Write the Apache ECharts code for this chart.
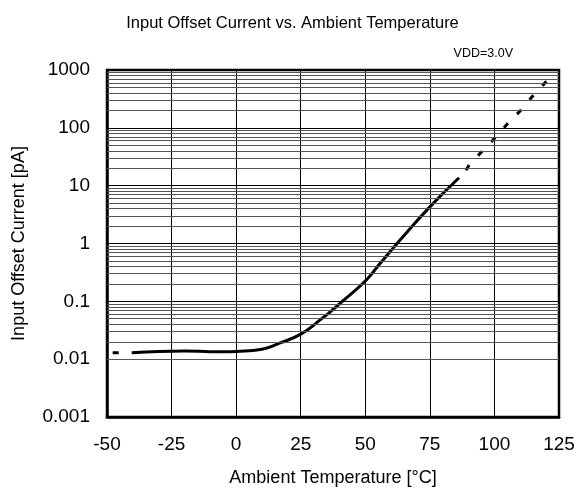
<!DOCTYPE html>
<html>
<head>
<meta charset="utf-8">
<script src="https://cdn.jsdelivr.net/npm/echarts@6/dist/echarts.min.js"></script>
<style>html,body{margin:0;padding:0;background:#fff}#c{width:585px;height:494px}</style>
</head>
<body>
<div id="c"></div>
<script>
var xTicks = [-50, -25, 0, 25, 50, 75, 100, 125];
var yTickLabels = {"0.001":"0.001","0.01":"0.01","0.1":"0.1","1":"1","10":"10","100":"100","1000":"1000"};
var lowDashed = [[-47.8, 0.0129], [-40.3, 0.0129]];
var solidCurve = [[-40.3, 0.0129], [-30, 0.0136], [-20, 0.0138], [-10, 0.0135], [-5, 0.0134], [0, 0.0136], [10, 0.0149], [17, 0.0191], [25, 0.0271], [32.4, 0.0472], [40.2, 0.092], [50.3, 0.232], [55.7, 0.45], [63.4, 1.14], [75, 4.3], [86.3, 13.7]];
var highDashed = [[89, 18.5], [90.2, 22.7], [95.4, 40], [100.4, 68.6], [105.4, 122], [110.3, 203], [115, 363], [121, 700]];
var minorLevels = [];
[0.001, 0.01, 0.1, 1, 10, 100].forEach(function (d) {
  for (var m = 2; m <= 9; m++) minorLevels.push(+(m * d).toPrecision(3));
});

var chart = echarts.init(document.getElementById('c'));
var font = 'Liberation Sans, Arial, sans-serif';
chart.setOption({
  animation: false,
  title: [{
    text: 'Input Offset Current vs. Ambient Temperature',
    left: 'center', top: 10,
    textStyle: { fontFamily: font, fontSize: 16.5, fontWeight: 'normal', color: '#000' }
  }, {
    text: 'VDD=3.0V',
    right: 67, top: 42,
    textStyle: { fontFamily: font, fontSize: 12.5, fontWeight: 'normal', color: '#000' }
  }],
  grid: { left: 107, right: 26, top: 70, bottom: 77, show: true, borderColor: '#000', borderWidth: 2.5, backgroundColor: 'transparent' },
  xAxis: {
    type: 'value', min: -50, max: 125, interval: 25,
    name: 'Ambient Temperature [°C]', nameLocation: 'middle', nameGap: 52,
    nameTextStyle: { fontFamily: font, fontSize: 18, color: '#000' },
    axisLine: { show: true, onZero: false, lineStyle: { color: '#000', width: 2.5 } },
    axisTick: { show: false },
    axisLabel: { fontFamily: font, fontSize: 19, color: '#000', margin: 18 },
    splitLine: { show: true, lineStyle: { color: '#000', width: 1 } }
  },
  yAxis: {
    type: 'log', logBase: 10, min: 0.001, max: 1000,
    name: 'Input Offset Current [pA]', nameLocation: 'middle', nameGap: 79,
    nameTextStyle: { fontFamily: font, fontSize: 18, color: '#000' },
    axisLine: { show: true, onZero: false, lineStyle: { color: '#000', width: 2.5 } },
    axisTick: { show: false },
    axisLabel: {
      fontFamily: font, fontSize: 19, color: '#000', margin: 17,
      formatter: function (v) { var k = String(+v.toPrecision(3)); return yTickLabels[k] !== undefined ? yTickLabels[k] : ''; }
    },
    splitLine: { show: true, lineStyle: { color: '#000', width: 1 } }
  },
  series: [{
    type: 'line', data: [], silent: true,
    markLine: {
      silent: true, symbol: 'none', label: { show: false }, animation: false,
      lineStyle: { color: '#555', width: 1, type: 'solid' },
      data: minorLevels.map(function (v) { return { yAxis: v }; })
    }
  }, {
    type: 'line', data: lowDashed, showSymbol: false, silent: true,
    lineStyle: { color: '#000', width: 3, type: [6, 13], cap: 'butt' }
  }, {
    type: 'line', data: solidCurve, smooth: 0.5, showSymbol: false, silent: true,
    lineStyle: { color: '#000', width: 3 }
  }, {
    type: 'line', data: highDashed, showSymbol: false, silent: true,
    lineStyle: { color: '#000', width: 3, type: [6, 13], cap: 'butt' }
  }]
});
</script>
</body>
</html>
